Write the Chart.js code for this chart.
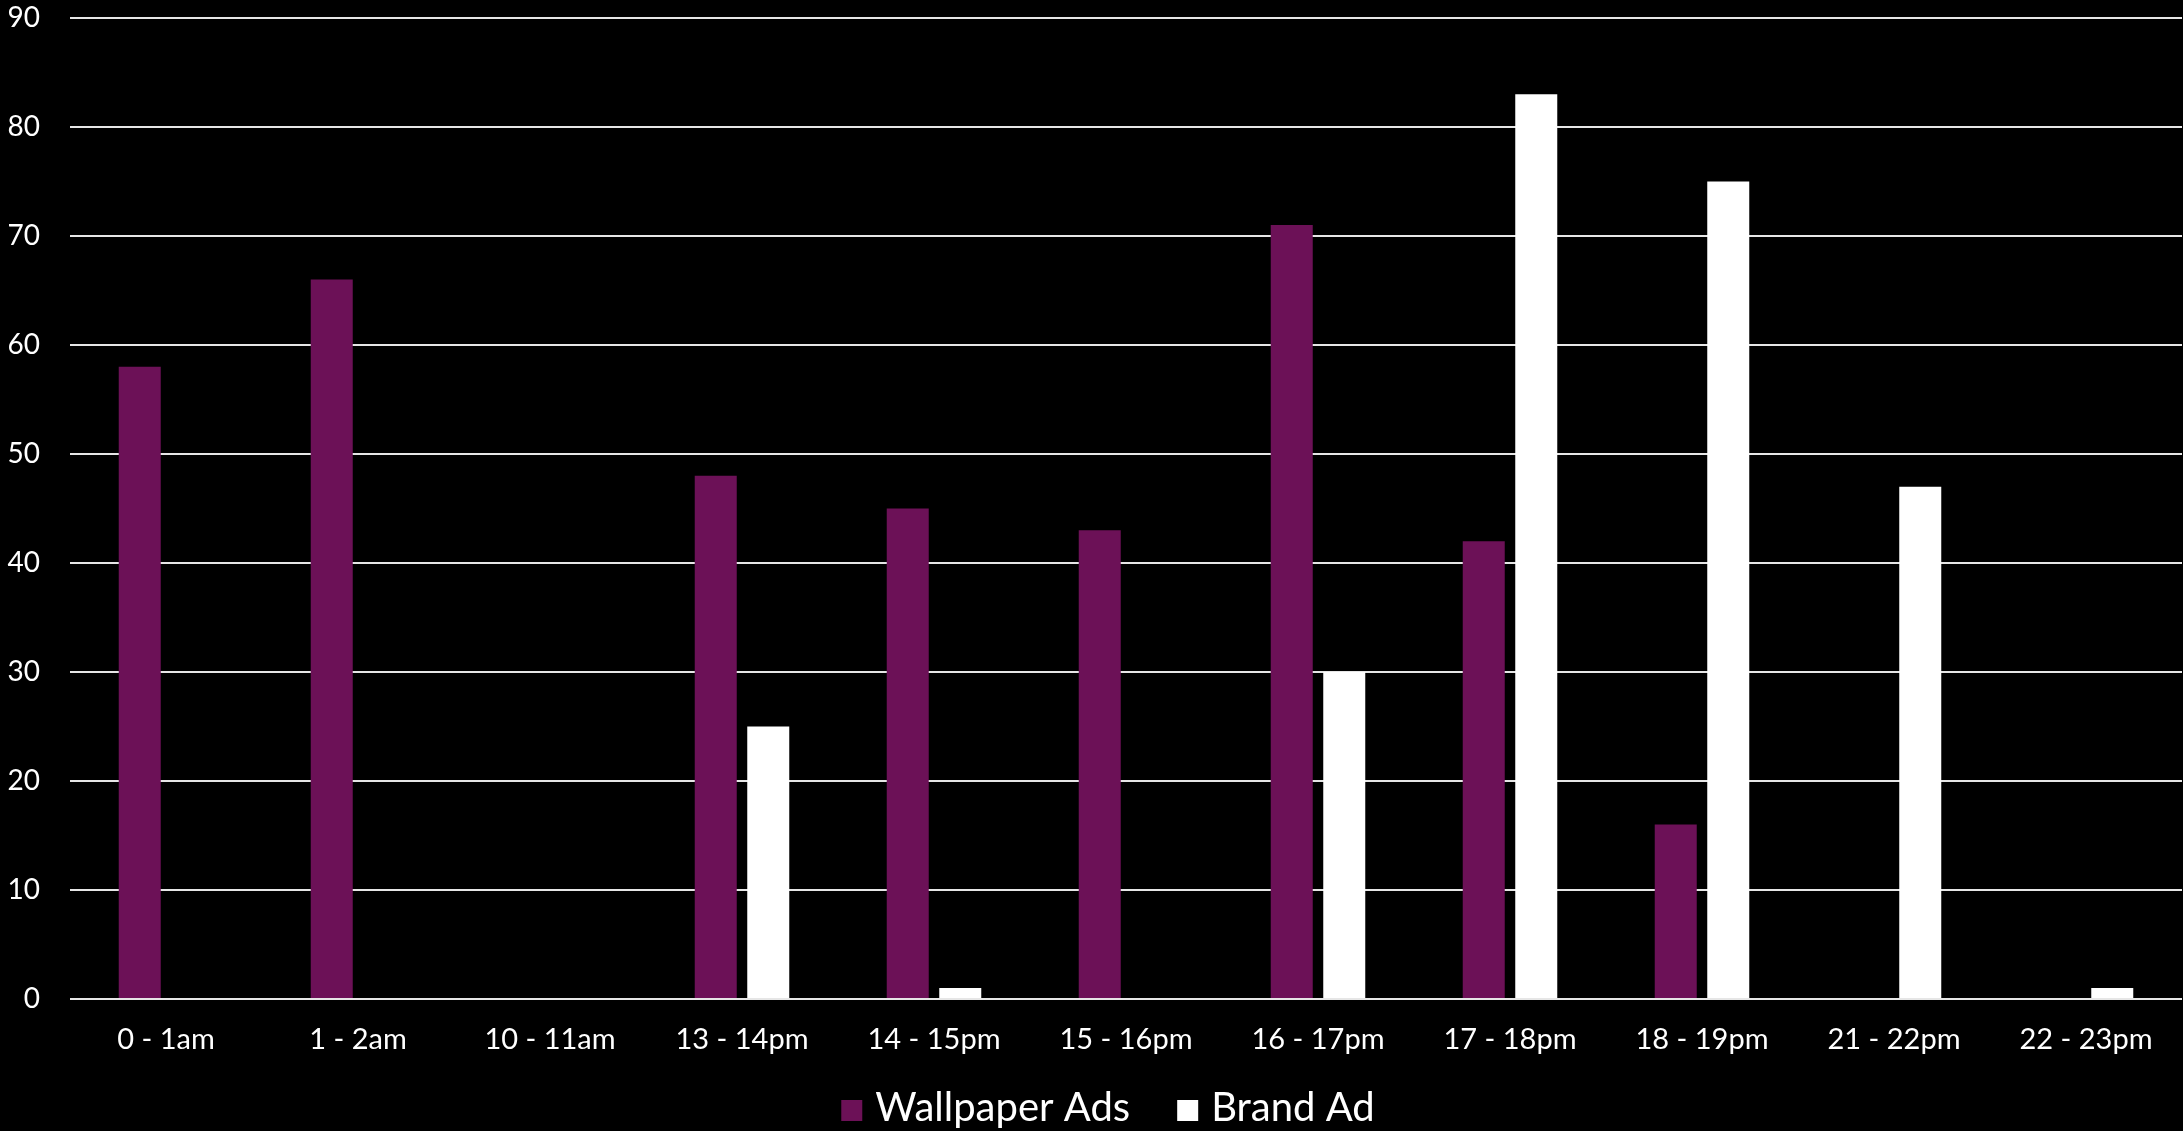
<!DOCTYPE html>
<html>
<head>
<meta charset="utf-8">
<script src="https://cdn.jsdelivr.net/npm/chart.js@4.4.1/dist/chart.umd.min.js"></script>
<style>
  html, body { margin: 0; padding: 0; background: #000; }
  #wrap { width: 2183px; height: 1131px; position: relative; }
</style>
</head>
<body>
<div id="wrap"><canvas id="hourChart"></canvas></div>
<script>
// ===== Ad impressions by hour =====

const hourLabels = ['0 - 1am', '1 - 2am', '10 - 11am', '13 - 14pm', '14 - 15pm', '15 - 16pm',
                    '16 - 17pm', '17 - 18pm', '18 - 19pm', '21 - 22pm', '22 - 23pm'];
const wallpaperAds = [58, 66, 0, 48, 45, 43, 71, 42, 16, 0, 0];
const brandAd      = [0, 0, 0, 25, 1, 0, 30, 83, 75, 47, 1];
const yTickValues  = [0, 10, 20, 30, 40, 50, 60, 70, 80, 90];

const FONT = 'Lato, "Open Sans", sans-serif';

// legend drawn under the axis labels, spaced like the original
const bottomLegend = {
  id: 'bottomLegend',
  afterDraw(chart) {
    const ctx = chart.ctx;
    const box = 21, textGap = 13, itemGap = 47;
    const baseline = 1121;
    ctx.save();
    ctx.font = `40px ${FONT}`;
    const items = chart.data.datasets.map(ds => ({
      text: ds.label,
      color: ds.backgroundColor,
      w: ctx.measureText(ds.label).width
    }));
    const total = items.reduce((s, it) => s + box + textGap + it.w, 0) + itemGap * (items.length - 1);
    let x = 1108 - total / 2;
    ctx.textBaseline = 'alphabetic';
    ctx.textAlign = 'left';
    items.forEach(it => {
      ctx.fillStyle = it.color;
      ctx.fillRect(x, baseline - box, box, box);
      x += box + textGap;
      ctx.fillStyle = '#ffffff';
      ctx.fillText(it.text, x, baseline);
      x += it.w + itemGap;
    });
    ctx.restore();
  }
};

new Chart(document.getElementById('hourChart'), {
  type: 'bar',
  data: {
    labels: hourLabels,
    datasets: [
      {
        label: 'Wallpaper Ads',
        data: wallpaperAds,
        backgroundColor: '#6C1157',
        borderWidth: 0,
        categoryPercentage: 0.547,
        barPercentage: 0.8
      },
      {
        label: 'Brand Ad',
        data: brandAd,
        backgroundColor: '#ffffff',
        borderWidth: 0,
        categoryPercentage: 0.547,
        barPercentage: 0.8
      }
    ]
  },
  options: {
    responsive: true,
    maintainAspectRatio: false,
    animation: false,
    layout: { padding: { top: 18, bottom: 50, left: 0, right: 1 } },
    plugins: {
      legend: { display: false },
      tooltip: { enabled: false }
    },
    scales: {
      x: {
        grid: { display: false, drawTicks: false },
        border: { display: false },
        ticks: {
          color: '#ffffff',
          padding: 23,
          maxRotation: 0,
          autoSkip: false,
          font: { size: 29, family: FONT }
        },
        afterFit: (scale) => { scale.height = 82; }
      },
      y: {
        min: 0,
        max: 90,
        afterBuildTicks: (scale) => { scale.ticks = yTickValues.map(v => ({ value: v })); },
        grid: { color: '#e6e6e6', lineWidth: 2, drawTicks: false },
        border: { display: false },
        ticks: {
          color: '#ffffff',
          padding: 30,
          font: { size: 28, family: FONT }
        },
        afterFit: (scale) => {
          scale.width = 70;
          scale.paddingTop = 0;
          scale.paddingBottom = 0;
        }
      }
    }
  },
  plugins: [bottomLegend]
});
</script>
</body>
</html>
